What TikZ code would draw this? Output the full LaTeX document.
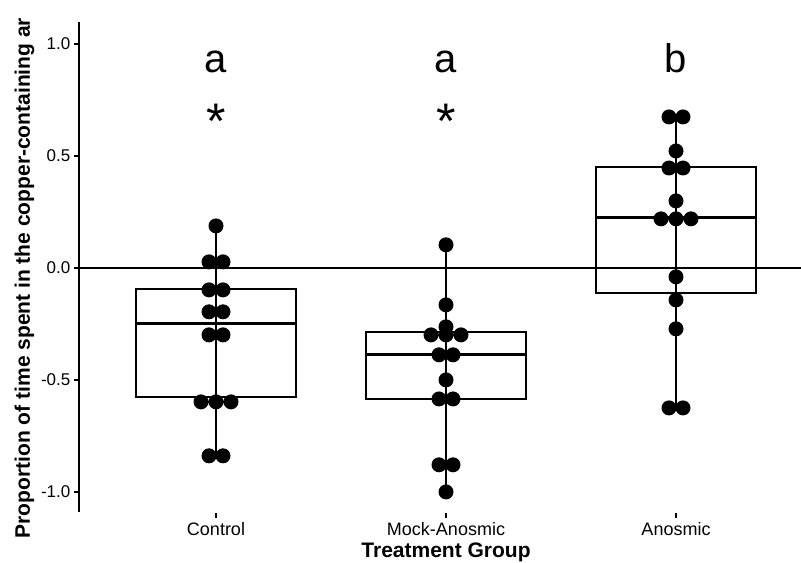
\documentclass[tikz,border=0pt]{standalone}
\usepackage{fontspec}
\setmainfont{Liberation Sans}
\usetikzlibrary{positioning}
\tikzset{median/.style={line width=3pt}}
\tikzset{ticklab/.style={font=\fontsize{17}{20}\selectfont, anchor=east, inner sep=0pt}}
\tikzset{grouplab/.style={font=\fontsize{18}{21}\selectfont, anchor=base, inner sep=0pt}}
\tikzset{axistitle/.style={font=\fontsize{21}{25}\selectfont\bfseries, inner sep=0pt}}
\tikzset{letterlab/.style={font=\fontsize{40}{48}\selectfont, anchor=base, inner sep=0pt}}
\tikzset{starlab/.style={font=\fontsize{50}{60}\selectfont, anchor=base, inner sep=0pt}}
\def\dr{7.5pt}

\begin{document}
\begin{tikzpicture}[x=1pt,y=224pt,line width=1.4pt]
    \useasboundingbox (0,-1.317) rectangle (801,1.196);

    \coordinate (Y0) at (79, 1.098);
    \coordinate (Y1) at (79, -1.089);
    \coordinate (Z0) at (79, 0);
    \coordinate (Z1) at (801, 0);

    % Control
    \coordinate (A0) at (136, -0.094);
    \coordinate (A1) at (296, -0.576);
    \coordinate (A2) at (136, -0.246);
    \coordinate (A3) at (296, -0.246);
    \coordinate (A4) at (216, 0.1875);
    \coordinate (A5) at (216, -0.839);

    % Mock-Anosmic
    \coordinate (B0) at (366, -0.286);
    \coordinate (B1) at (526, -0.585);
    \coordinate (B2) at (366, -0.388);
    \coordinate (B3) at (526, -0.388);
    \coordinate (B4) at (446, 0.103);
    \coordinate (B5) at (446, -1.0);

    % Anosmic
    \coordinate (C0) at (596, 0.451);
    \coordinate (C1) at (756, -0.112);
    \coordinate (C2) at (596, 0.223);
    \coordinate (C3) at (756, 0.223);
    \coordinate (C4) at (676, 0.674);
    \coordinate (C5) at (676, -0.625);

    \draw (Y0) -- (Y1);
    \draw (Z0) -- (Z1);

    \draw (A4) -- (A5);
    \draw (B4) -- (B5);
    \draw (C4) -- (C5);

    \draw (A0) rectangle (A1);
    \draw (B0) rectangle (B1);
    \draw (C0) rectangle (C1);
    \draw[median] (A2) -- (A3);
    \draw[median] (B2) -- (B3);
    \draw[median] (C2) -- (C3);

    % ticks
    \draw (74, 1) -- (79, 1);
    \draw (74, 0.5) -- (79, 0.5);
    \draw (74, 0) -- (79, 0);
    \draw (74, -0.5) -- (79, -0.5);
    \draw (74, -1) -- (79, -1);
    \draw (216, -1.094) -- (216, -1.116);
    \draw (446, -1.094) -- (446, -1.116);
    \draw (676, -1.094) -- (676, -1.116);

    % dots
    \fill (216, 0.1875) circle (\dr);
    \fill (209, 0.027) circle (\dr) (223, 0.027) circle (\dr);
    \fill (209, -0.098) circle (\dr) (223, -0.098) circle (\dr);
    \fill (209, -0.196) circle (\dr) (223, -0.196) circle (\dr);
    \fill (209, -0.299) circle (\dr) (223, -0.299) circle (\dr);
    \fill (201, -0.598) circle (\dr) (216, -0.598) circle (\dr) (231, -0.598) circle (\dr);
    \fill (209, -0.839) circle (\dr) (223, -0.839) circle (\dr);

    \fill (446, 0.103) circle (\dr);
    \fill (446, -0.165) circle (\dr);
    \fill (446, -0.263) circle (\dr);
    \fill (431, -0.299) circle (\dr) (446, -0.299) circle (\dr) (461, -0.299) circle (\dr);
    \fill (439, -0.388) circle (\dr) (453, -0.388) circle (\dr);
    \fill (446, -0.5) circle (\dr);
    \fill (439, -0.585) circle (\dr) (453, -0.585) circle (\dr);
    \fill (439, -0.879) circle (\dr) (453, -0.879) circle (\dr);
    \fill (446, -1.0) circle (\dr);

    \fill (669, 0.674) circle (\dr) (683, 0.674) circle (\dr);
    \fill (676, 0.522) circle (\dr);
    \fill (669, 0.446) circle (\dr) (683, 0.446) circle (\dr);
    \fill (676, 0.299) circle (\dr);
    \fill (661, 0.219) circle (\dr) (676, 0.219) circle (\dr) (691, 0.219) circle (\dr);
    \fill (676, -0.04) circle (\dr);
    \fill (676, -0.143) circle (\dr);
    \fill (676, -0.272) circle (\dr);
    \fill (669, -0.625) circle (\dr) (683, -0.625) circle (\dr);

%labels
    \node (t1) [ticklab] at (71, 1) {1.0};
    \node (t2) [ticklab] at (71, 0.5) {0.5};
    \node (t3) [ticklab] at (71, 0) {0.0};
    \node (t4) [ticklab] at (71, -0.5) {-0.5};
    \node (t5) [ticklab] at (71, -1) {-1.0};

    \node (g1) [grouplab] at (216, -1.196) {Control};
    \node (g2) [grouplab] at (446, -1.196) {Mock-Anosmic};
    \node (g3) [grouplab] at (676, -1.196) {Anosmic};

    \node (xt) [axistitle, anchor=base] at (446, -1.295) {Treatment Group};
    \node (yt) [axistitle, anchor=base west, rotate=90] at (30, -1.21)
        {Proportion of time spent in the copper-containing ar};

    \node (l1) [letterlab] at (216, 0.8705) {a};
    \node (l2) [letterlab] at (446, 0.8705) {a};
    \node (l3) [letterlab] at (676, 0.8705) {b};
    \node (s1) [starlab] at (216, 0.576) {*};
    \node (s2) [starlab] at (446, 0.576) {*};
\end{tikzpicture}
\end{document}
